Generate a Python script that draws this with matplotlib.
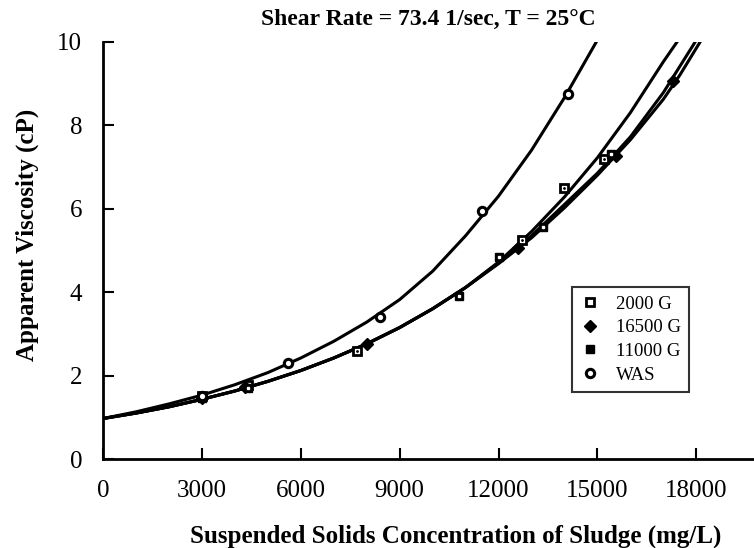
import matplotlib
matplotlib.use("Agg")
import matplotlib.pyplot as plt

plt.rcParams['font.family'] = ['Liberation Serif', 'DejaVu Serif']

# ---- fitted curves ----
was_curve_x = [0, 1000, 2000, 3000, 4000, 5000, 6000, 7000, 8000, 9000, 10000,
               11000, 12000, 13000, 14000, 14970]
was_curve_y = [0.97, 1.13, 1.32, 1.53, 1.78, 2.07, 2.42, 2.82, 3.28, 3.82, 4.50,
               5.35, 6.30, 7.40, 8.66, 10.0]

low_common_x = [0, 1000, 2000, 3000, 4000, 5000, 6000, 7000, 8000, 9000, 10000, 11000]
low_common_y = [0.97, 1.10, 1.25, 1.43, 1.63, 1.86, 2.12, 2.42, 2.76, 3.15, 3.60, 4.11]

g2000_tail_x = [12000, 13000, 14000, 15000, 16000, 17000, 17420]
g2000_tail_y = [4.72, 5.45, 6.28, 7.22, 8.30, 9.52, 10.0]
g16500_tail_x = [12000, 13000, 14000, 15000, 16000, 17000, 17970]
g16500_tail_y = [4.70, 5.35, 6.10, 6.85, 7.72, 8.78, 10.0]
g11000_tail_x = [12000, 13000, 14000, 15000, 16000, 17000, 17500, 18120]
g11000_tail_y = [4.68, 5.30, 6.02, 6.80, 7.65, 8.62, 9.20, 10.0]

# ---- measured points ----
was_x = [3000, 5600, 8400, 11500, 14100]
was_y = [1.52, 2.30, 3.40, 5.95, 8.75]
g2000_x = [3000, 4400, 7700, 12700, 14000, 15200]
g2000_y = [1.50, 1.78, 2.60, 5.25, 6.50, 7.20]
g16500_x = [3000, 4300, 8000, 12600, 15550, 17300]
g16500_y = [1.45, 1.72, 2.75, 5.06, 7.25, 9.05]
g11000_x = [3000, 4400, 10800, 12000, 13350, 15400]
g11000_y = [1.45, 1.70, 3.90, 4.85, 5.55, 7.30]

series_labels = ["2000 G", "16500 G", "11000 G", "WAS"]
x_ticks = [0, 3000, 6000, 9000, 12000, 15000, 18000]
y_ticks = [0, 2, 4, 6, 8, 10]

fig = plt.figure(figsize=(7.54, 5.48), dpi=100)
ax = fig.add_axes([0.1366, 0.1624, 0.8634, 0.7615])

lw = 2.2
ax.plot(was_curve_x, was_curve_y, color='black', lw=lw, solid_joinstyle='round')
ax.plot(low_common_x + g2000_tail_x, low_common_y + g2000_tail_y, color='black', lw=lw, solid_joinstyle='round')
ax.plot(low_common_x + g16500_tail_x, low_common_y + g16500_tail_y, color='black', lw=lw, solid_joinstyle='round')
ax.plot(low_common_x + g11000_tail_x, low_common_y + g11000_tail_y, color='black', lw=lw, solid_joinstyle='round')

ms = 6
h1, = ax.plot(g2000_x, g2000_y, ls='none', marker='s', ms=ms, mfc='white', mec='black', mew=2.0, label=series_labels[0])
ax.plot(g2000_x, g2000_y, ls='none', marker='.', ms=2, color='black')
h2, = ax.plot(g16500_x, g16500_y, ls='none', marker='D', ms=ms, mfc='black', mec='black', label=series_labels[1])
h3, = ax.plot(g11000_x, g11000_y, ls='none', marker='s', ms=ms, mfc='black', mec='black', label=series_labels[2])
ax.plot(g11000_x, g11000_y, ls='none', marker='s', ms=1.5, mfc='white', mec='white')
h4, = ax.plot(was_x, was_y, ls='none', marker='o', ms=ms, mfc='white', mec='black', mew=2.2, label=series_labels[3])

ax.set_xlim(0, 19750)
ax.set_ylim(0, 10)
ax.set_xticks(x_ticks)
ax.set_yticks(y_ticks)
ax.tick_params(direction='in', length=8, width=1.5, labelsize=18)
ax.tick_params(axis='x', pad=15)
ax.tick_params(axis='y', pad=15)
for s in ['top', 'right']:
    ax.spines[s].set_visible(False)
for s in ['left', 'bottom']:
    ax.spines[s].set_linewidth(2)

ax.set_xlabel("Suspended Solids Concentration of Sludge (mg/L)", fontsize=18, fontweight='bold')
ax.set_ylabel("Apparent Viscosity (cP)", fontsize=18, fontweight='bold')
ax.xaxis.set_label_coords(0.542, -0.158)
ax.yaxis.set_label_coords(-0.098, 0.538)
ax.set_title("Shear Rate = 73.4 1/sec, T = 25°C", fontsize=17, fontweight='bold', pad=12)

leg = ax.legend(handles=[h1, h2, h3, h4], loc='upper left', bbox_to_anchor=(0.720, 0.412),
                fontsize=13.5, frameon=True, fancybox=False, edgecolor='black',
                handlelength=1.0, handletextpad=0.9, borderpad=0.45, labelspacing=0.35,
                borderaxespad=0)
leg.get_frame().set_linewidth(1.5)

fig.savefig("out.png", dpi=100)
